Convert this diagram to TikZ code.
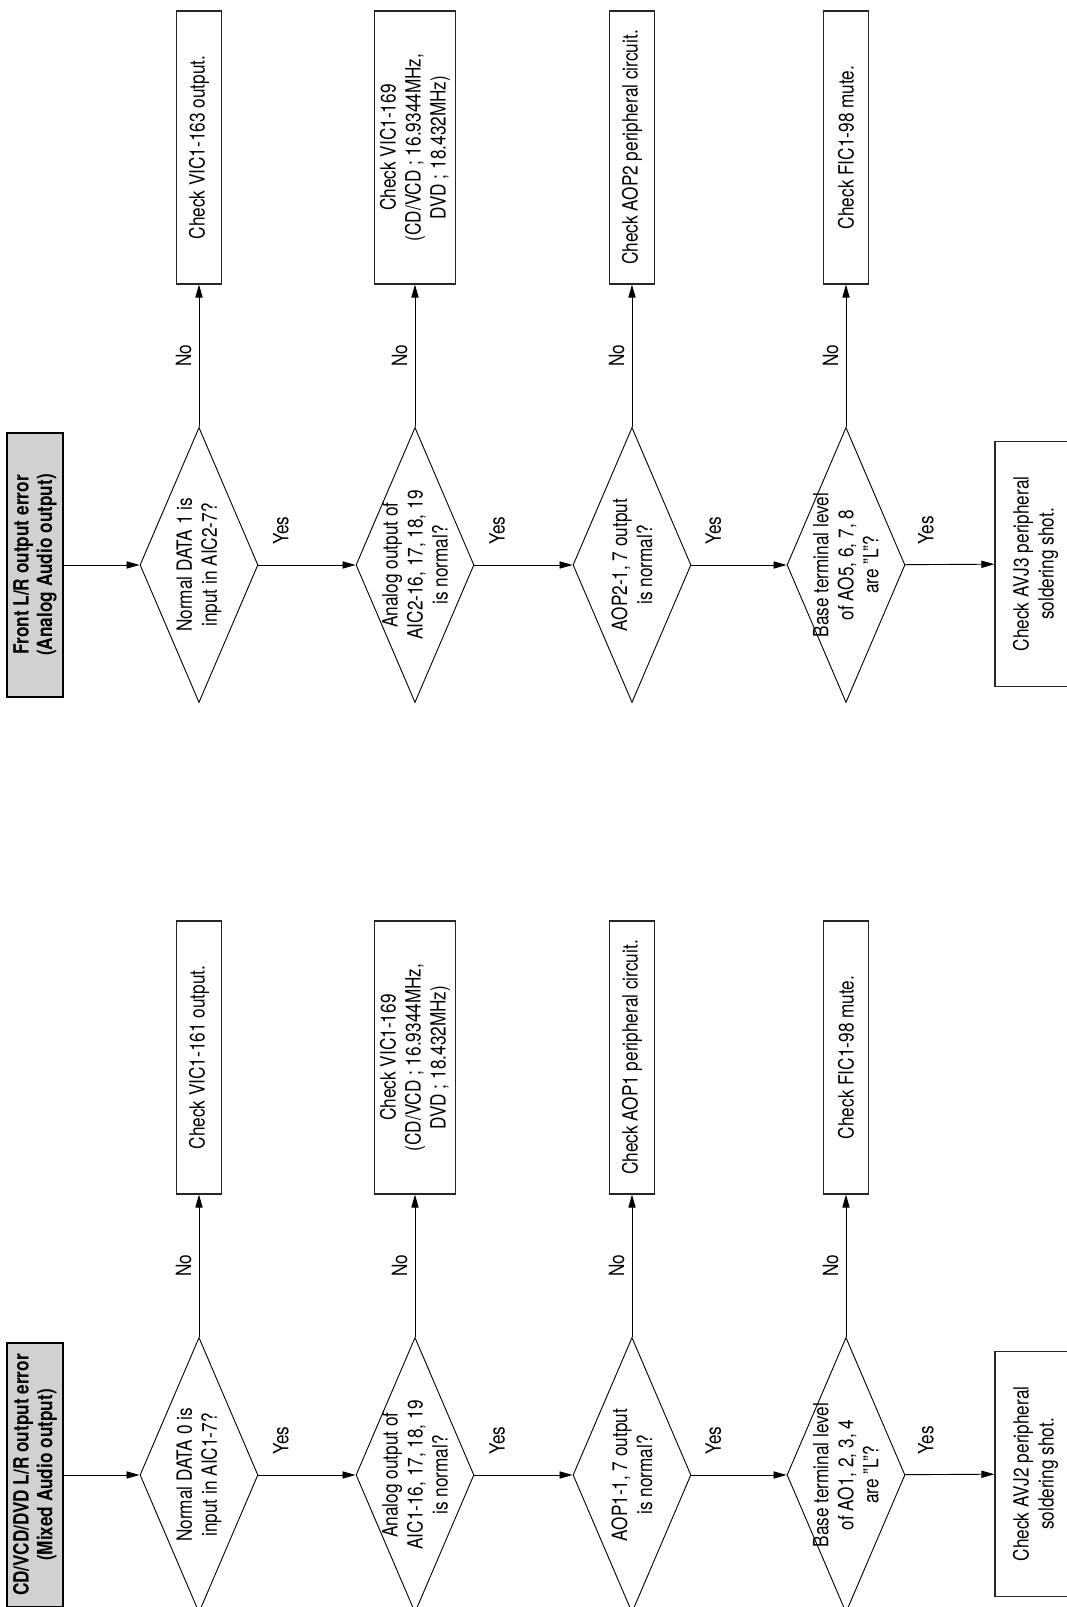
\documentclass[tikz,border=0pt]{standalone}
\usepackage{fontspec}
\setmainfont{TeX Gyre Heros}[FakeStretch=0.82]
\usetikzlibrary{shapes.geometric, arrows.meta}

\begin{document}
\begin{tikzpicture}[
        x=0.5pt, y=0.5pt,
        font=\fontsize{10.5pt}{12.5pt}\selectfont,
        titlebox/.style = {draw, line width=1.2pt, fill=black!18, minimum width=132pt, minimum height=28pt, inner sep=1pt, align=center, font=\fontsize{10.5pt}{11.8pt}\selectfont\bfseries},
        decision/.style = {draw, diamond, minimum width=137.5pt, minimum height=59pt, inner sep=0pt, line width=0.45pt},
        qtext/.style = {align=center, inner sep=0pt},
        checkbox/.style = {draw=black!85, line width=0.6pt, minimum width=136.5pt, minimum height=22.5pt, inner sep=1.5pt, align=center},
        endbox/.style = {checkbox, minimum width=122.5pt, minimum height=40.5pt},
        flow/.style = {-{Triangle[length=6.5pt, width=3.6pt]}, line width=0.45pt},
        yeslbl/.style = {pos=0.23, right=10pt, inner sep=0pt},
        nolbl/.style = {midway, above=3.5pt, inner sep=0pt},
    ]
    \begin{scope}[rotate=90, transform shape]
        \useasboundingbox (0,0) rectangle (1607,1066);

        % CD/VCD/DVD chart
        \node[titlebox] (cdHead) at (132,1031) {CD/VCD/DVD L/R output error\\(Mixed Audio output)};
        \node[decision, label={[qtext]center:{Normal DATA 0 is\\input in AIC1-7?}}] (cdQ1) at (132,867) {};
        \node[decision, label={[qtext]center:{Analog output of\\AIC1-16, 17, 18, 19\\is normal?}}] (cdQ2) at (132,651) {};
        \node[decision, label={[qtext]center:{AOP1-1, 7 output\\is normal?}}] (cdQ3) at (132,434) {};
        \node[decision, label={[qtext]center:{Base terminal level\\of AO1, 2, 3, 4\\are "L"?}}] (cdQ4) at (132,220) {};
        \node[checkbox] (cdN1) at (549.5,867) {Check VIC1-161 output.};
        \node[checkbox, minimum height=40.5pt] (cdN2) at (549.5,651) {Check VIC1-169\\(CD/VCD ; 16.9344MHz,\\DVD ; 18.432MHz)};
        \node[checkbox] (cdN3) at (549.5,434) {Check AOP1 peripheral circuit.};
        \node[checkbox] (cdN4) at (549.5,220) {Check FIC1-98 mute.};
        \node[endbox] (cdEnd) at (133,30.5) {Check AVJ2 peripheral\\soldering shot.};

        \draw[flow] (cdHead) -- (cdQ1);
        \draw[flow] (cdQ1) -- node[yeslbl] {Yes} (cdQ2);
        \draw[flow] (cdQ2) -- node[yeslbl] {Yes} (cdQ3);
        \draw[flow] (cdQ3) -- node[yeslbl] {Yes} (cdQ4);
        \draw[flow] (cdQ4) -- node[yeslbl] {Yes} (cdEnd);
        \draw[flow] (cdQ1) -- node[nolbl] {No} (cdN1);
        \draw[flow] (cdQ2) -- node[nolbl] {No} (cdN2);
        \draw[flow] (cdQ3) -- node[nolbl] {No} (cdN3);
        \draw[flow] (cdQ4) -- node[nolbl] {No} (cdN4);

        % Front chart
        \node[titlebox] (frHead) at (1042,1031) {Front L/R output error\\(Analog Audio output)};
        \node[decision, label={[qtext]center:{Normal DATA 1 is\\input in AIC2-7?}}] (frQ1) at (1042,867) {};
        \node[decision, label={[qtext]center:{Analog output of\\AIC2-16, 17, 18, 19\\is normal?}}] (frQ2) at (1042,651) {};
        \node[decision, label={[qtext]center:{AOP2-1, 7 output\\is normal?}}] (frQ3) at (1042,434) {};
        \node[decision, label={[qtext]center:{Base terminal level\\of AO5, 6, 7, 8\\are "L"?}}] (frQ4) at (1042,220) {};
        \node[checkbox] (frN1) at (1459.5,867) {Check VIC1-163 output.};
        \node[checkbox, minimum height=40.5pt] (frN2) at (1459.5,651) {Check VIC1-169\\(CD/VCD ; 16.9344MHz,\\DVD ; 18.432MHz)};
        \node[checkbox] (frN3) at (1459.5,434) {Check AOP2 peripheral circuit.};
        \node[checkbox] (frN4) at (1459.5,220) {Check FIC1-98 mute.};
        \node[endbox] (frEnd) at (1043,30.5) {Check AVJ3 peripheral\\soldering shot.};

        \draw[flow] (frHead) -- (frQ1);
        \draw[flow] (frQ1) -- node[yeslbl] {Yes} (frQ2);
        \draw[flow] (frQ2) -- node[yeslbl] {Yes} (frQ3);
        \draw[flow] (frQ3) -- node[yeslbl] {Yes} (frQ4);
        \draw[flow] (frQ4) -- node[yeslbl] {Yes} (frEnd);
        \draw[flow] (frQ1) -- node[nolbl] {No} (frN1);
        \draw[flow] (frQ2) -- node[nolbl] {No} (frN2);
        \draw[flow] (frQ3) -- node[nolbl] {No} (frN3);
        \draw[flow] (frQ4) -- node[nolbl] {No} (frN4);
    \end{scope}
\end{tikzpicture}
\end{document}
